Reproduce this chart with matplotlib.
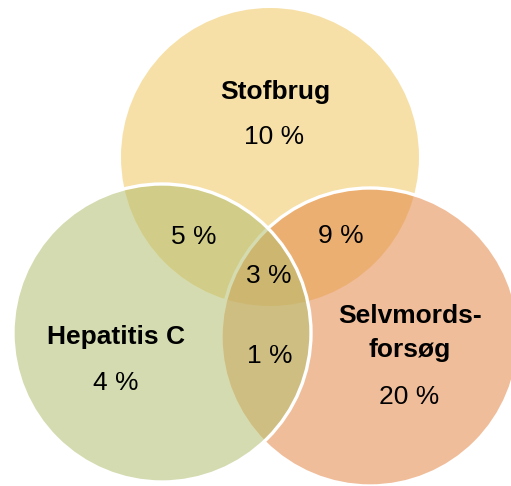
import matplotlib
matplotlib.use("Agg")
import matplotlib.pyplot as plt
from matplotlib.patches import Circle

# ---- data ----
sets = ["Stofbrug", "Selvmords-\nforsøg", "Hepatitis C"]
set_values = [10, 20, 4]
pair_labels = ["Stofbrug & Hepatitis C", "Stofbrug & Selvmordsforsøg",
               "Hepatitis C & Selvmordsforsøg"]
pair_values = [5, 9, 1]
triple_value = 3

# ---- layout / style ----
W, H = 511, 486
centers = [(270, 157), (370, 337), (162, 333)]   # Stofbrug, Selvmord, Hepatitis
radius = 149
colors = [(240/255, 200/255, 97/255), (228/255, 135/255, 71/255), (180/255, 191/255, 111/255)]
edges = [False, True, True]
alpha = 0.55

plt.rcParams['font.family'] = ['Liberation Sans', 'DejaVu Sans']
fig = plt.figure(figsize=(W/100, H/100), dpi=100)
ax = fig.add_axes([0, 0, 1, 1])
ax.set_xlim(0, W)
ax.set_ylim(H, 0)
ax.set_aspect('equal')
ax.axis('off')

for (cx, cy), col, e in zip(centers, colors, edges):
    ax.add_patch(Circle((cx, cy), radius, facecolor=(*col, alpha),
                        edgecolor='white' if e else 'none',
                        linewidth=2.4 if e else 0, zorder=1))

fs = 19
# set labels (bold) and values
set_name_pos = [(275, 99), (410, 323), (116, 344)]
set_val_pos = [(274, 144), (409, 404), (116, 390)]
for name, val, (nx, ny), (vx, vy) in zip(sets, set_values, set_name_pos, set_val_pos):
    lines = name.split("\n")
    for i, ln in enumerate(lines):
        ax.text(nx, ny + i * 34, ln, ha='center', va='baseline', fontsize=fs,
                fontweight='bold', color='black', zorder=5)
    ax.text(vx, vy, f"{val} %", ha='center', va='baseline', fontsize=fs,
            color='black', zorder=5)

pair_pos = [(194, 244), (341, 243), (270, 363)]
for val, (px, py) in zip(pair_values, pair_pos):
    ax.text(px, py, f"{val} %", ha='center', va='baseline', fontsize=fs,
            color='black', zorder=5)
ax.text(269, 283, f"{triple_value} %", ha='center', va='baseline', fontsize=fs,
        color='black', zorder=5)

fig.savefig("out.png", dpi=100)
